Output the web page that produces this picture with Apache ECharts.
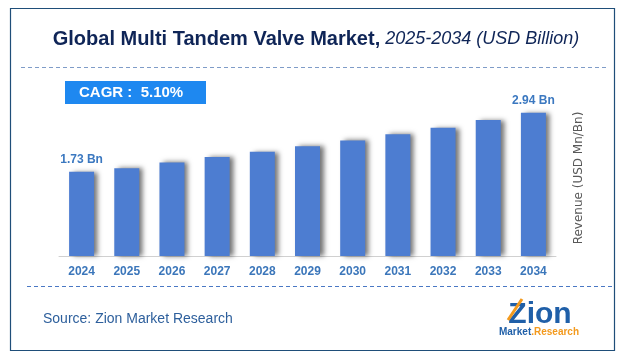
<!DOCTYPE html>
<html>
<head>
<meta charset="utf-8">
<script src="https://cdn.jsdelivr.net/npm/echarts@6/dist/echarts.min.js"></script>
<style>html,body{margin:0;padding:0;background:#fff}#c{width:632px;height:360px}</style>
</head>
<body>
<div id="c"></div>
<script>
const years = ['2024','2025','2026','2027','2028','2029','2030','2031','2032','2033','2034'];
const revenue = [1.73, 1.80, 1.92, 2.03, 2.14, 2.25, 2.37, 2.50, 2.63, 2.79, 2.94];
const labelTexts = {0: '1.73 Bn', 10: '2.94 Bn'};
const cagrText = 'CAGR :  5.10%';
const titleMain = 'Global Multi Tandem Valve Market,';
const titleSub = ' 2025-2034 (USD Billion)';
const sourceText = 'Source: Zion Market Research';

const chart = echarts.init(document.getElementById('c'));
chart.setOption({
  animation: false,
  backgroundColor: '#fff',
  title: {
    text: '{a|' + titleMain + '}{b|' + titleSub + '}',
    left: 'center', top: 24,
    textStyle: {
      fontWeight: 'normal',
      rich: {
        a: {fontFamily: 'Liberation Sans', fontWeight: 'bold', fontSize: 20, color: '#0f2557'},
        b: {fontFamily: 'Liberation Sans', fontStyle: 'italic', fontWeight: 'normal', fontSize: 18, color: '#0f2557'}
      }
    }
  },
  grid: {left: 59, right: 76, top: 100, bottom: 104},
  xAxis: {
    type: 'category', data: years,
    axisLine: {lineStyle: {color: '#d0d0d0', width: 1}},
    axisTick: {show: false},
    axisLabel: {color: '#3b76ba', fontWeight: 'bold', fontSize: 12, fontFamily: 'Liberation Sans', margin: 10}
  },
  yAxis: {
    type: 'value', min: 0, max: 3.2, position: 'right',
    name: 'Revenue (USD Mn/Bn)', nameLocation: 'middle', nameRotate: 90, nameGap: 17,
    nameTextStyle: {color: '#595959', fontSize: 12, fontFamily: 'DejaVu Sans'},
    axisLine: {show: false}, axisTick: {show: false}, axisLabel: {show: false}, splitLine: {show: false}
  },
  series: [{
    type: 'bar', data: revenue, barWidth: 25,
    itemStyle: {color: '#4d7dd1', shadowColor: 'rgba(0,0,0,0.55)', shadowBlur: 5, shadowOffsetX: 4, shadowOffsetY: 0},
    label: {
      show: true, position: 'top', distance: 6,
      color: '#3b78c0', fontWeight: 'bold', fontSize: 12, fontFamily: 'Liberation Sans',
      formatter: p => labelTexts[p.dataIndex] || ''
    }
  }],
  graphic: [
    {type: 'rect', shape: {x: 10.5, y: 8.5, width: 604, height: 342}, style: {fill: 'none', stroke: '#1f4e79', lineWidth: 1.2}, silent: true},
    {type: 'line', shape: {x1: 21, y1: 67.5, x2: 608, y2: 67.5}, style: {stroke: '#7f9cc8', lineWidth: 1, lineDash: [4, 3]}},
    {type: 'line', shape: {x1: 27, y1: 286.5, x2: 612, y2: 286.5}, style: {stroke: '#4a78c4', lineWidth: 1, lineDash: [4, 3]}},
    {type: 'rect', shape: {x: 65, y: 81, width: 141, height: 23}, style: {fill: '#1e88f0'}},
    {type: 'text', x: 79, y: 92.5, style: {text: cagrText, fill: '#fff', fontSize: 15, fontWeight: 'bold', fontFamily: 'Liberation Sans', verticalAlign: 'middle'}},
    {type: 'text', x: 43, y: 319, style: {text: sourceText, fill: '#2d5f9c', fontSize: 14, fontFamily: 'Liberation Sans', verticalAlign: 'middle'}},
    {type: 'text', x: 540, y: 315, style: {text: 'Zion', fill: '#1f5fa8', fontSize: 30, fontWeight: 'bold', fontFamily: 'Liberation Sans', align: 'center', verticalAlign: 'middle'}},
    {type: 'line', shape: {x1: 508, y1: 320, x2: 522, y2: 299}, style: {stroke: '#f39a1e', lineWidth: 3}},
    {type: 'text', x: 539, y: 332, style: {text: '{m|Market}{r|.Research}', align: 'center', verticalAlign: 'middle', rich: {m: {fill: '#1f5fa8', fontSize: 10, fontWeight: 'bold', fontFamily: 'Liberation Sans'}, r: {fill: '#f39a1e', fontSize: 10, fontWeight: 'bold', fontFamily: 'Liberation Sans'}}}}
  ]
});
</script>
</body>
</html>
